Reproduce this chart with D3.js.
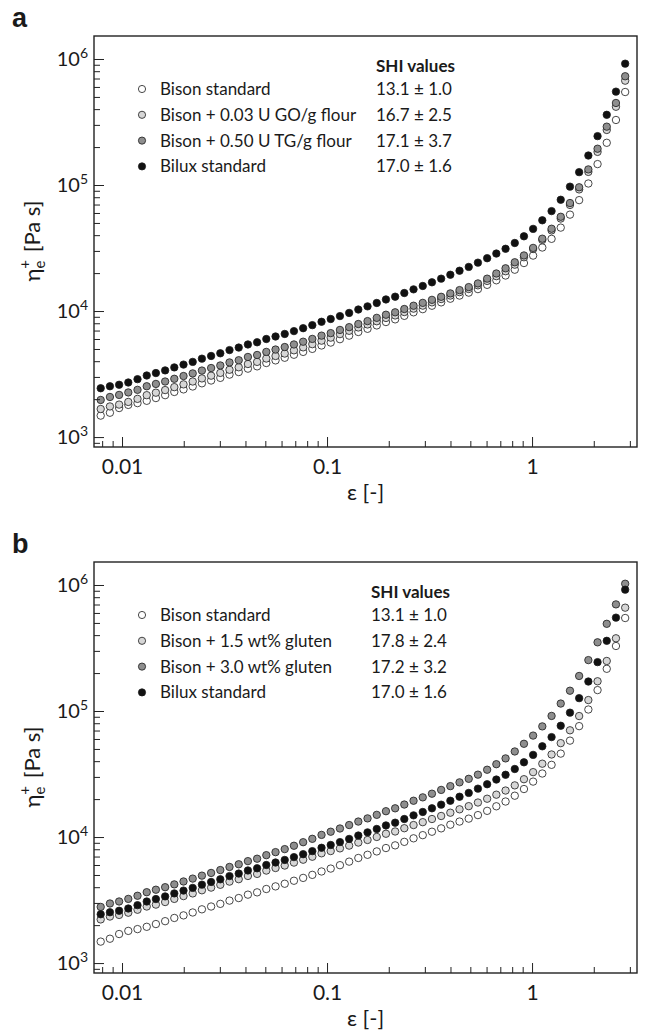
<!DOCTYPE html>
<html>
<head>
<meta charset="utf-8">
<script src="https://cdn.jsdelivr.net/npm/d3@7"></script>
<style>
  body { margin: 0; background: #fff; }
  text { font-family: Lato, "DejaVu Sans", sans-serif; fill: #1a1a1a; }
</style>
</head>
<body>
<svg id="chart" width="647" height="1033"></svg>
<script>
// Hencky strain of every measured point (same for all curves)
var strain = [0.00787, 0.00873, 0.00968, 0.01073, 0.01190, 0.01320, 0.01463, 0.01623, 0.01799, 0.01995,
    0.02212, 0.02453, 0.02720, 0.03016, 0.03344, 0.03709, 0.04112, 0.04560, 0.05056, 0.05608,
    0.06218, 0.06896, 0.07647, 0.08476, 0.09400, 0.1042, 0.1156, 0.1282, 0.1421, 0.1576,
    0.1748, 0.1938, 0.2149, 0.2382, 0.2642, 0.2930, 0.3249, 0.3603, 0.3994, 0.4429,
    0.4911, 0.5445, 0.6039, 0.6696, 0.7427, 0.8236, 0.9131, 1.012, 1.122, 1.245,
    1.380, 1.531, 1.697, 1.882, 2.087, 2.314, 2.566, 2.846];

// elongational viscosity [Pa s]
var bisonStandard = [1480, 1560, 1700, 1800, 1860, 1940, 2040, 2150, 2280, 2390,
    2520, 2670, 2810, 2950, 3130, 3280, 3490, 3640, 3870, 4060,
    4260, 4500, 4740, 5010, 5330, 5620, 5980, 6380, 6820, 7230,
    7690, 8180, 8590, 9160, 9770, 10350, 11020, 11720, 12530, 13270,
    14000, 14930, 16140, 17540, 19140, 21280, 24040, 27540, 31920, 37410,
    45920, 58210, 75860, 102800, 146600, 216300, 328100, 547000];

var bisonGO = [1670, 1750, 1810, 1900, 2010, 2150, 2250, 2360, 2490, 2620,
    2760, 2920, 3070, 3230, 3420, 3580, 3800, 3950, 4200, 4400,
    4600, 4880, 5150, 5460, 5820, 6150, 6560, 6970, 7410, 7830,
    8300, 8810, 9230, 9820, 10450, 11040, 11720, 12450, 13270, 14130,
    14960, 16000, 17340, 18920, 20700, 23330, 26730, 31050, 36640, 43650,
    54200, 69500, 92260, 127100, 183200, 273500, 417800, 673000];

var bisonTG = [1970, 2080, 2160, 2260, 2370, 2530, 2640, 2760, 2900, 3050,
    3200, 3370, 3530, 3700, 3910, 4070, 4320, 4480, 4740, 4950,
    5180, 5430, 5710, 6010, 6380, 6680, 7080, 7450, 7890, 8320,
    8830, 9350, 9770, 10380, 11020, 11610, 12270, 12970, 13800, 14660,
    15490, 16560, 18070, 19860, 21830, 24380, 27610, 31700, 37500, 44980,
    55980, 71940, 95940, 133000, 194100, 290400, 447700, 729400];

var biluxStandard = [2440, 2530, 2600, 2710, 2880, 3080, 3220, 3380, 3570, 3760,
    3950, 4190, 4400, 4620, 4900, 5130, 5430, 5650, 6000, 6280,
    6580, 6930, 7310, 7730, 8220, 8650, 9120, 9660, 10280, 10890,
    11590, 12360, 13000, 13900, 14860, 15810, 16900, 18070, 19410, 20890,
    22390, 24210, 26240, 28580, 31190, 34670, 39170, 44870, 52480, 62090,
    76380, 97050, 126500, 171400, 244300, 360600, 550800, 918000];

var bisonGluten15 = [2220, 2340, 2410, 2510, 2650, 2810, 2910, 3050, 3230, 3400,
    3570, 3780, 3970, 4180, 4430, 4630, 4910, 5100, 5420, 5680,
    5940, 6270, 6610, 6980, 7430, 7740, 8130, 8550, 9040, 9480,
    10020, 10620, 11070, 11750, 12450, 13120, 13900, 14690, 15600, 16600,
    17580, 18790, 20140, 21680, 23390, 25700, 28770, 32730, 38190, 45190,
    55590, 70310, 91200, 122200, 172200, 249500, 377600, 660700];

var bisonGluten30 = [2790, 2970, 3080, 3230, 3420, 3650, 3820, 4000, 4210, 4440,
    4680, 4940, 5190, 5470, 5790, 6080, 6440, 6730, 7180, 7590,
    8020, 8530, 9100, 9680, 10400, 11020, 11690, 12450, 13270, 14060,
    15000, 16030, 16900, 18110, 19410, 20650, 22080, 23660, 25350, 27160,
    28970, 31260, 34200, 37840, 42070, 47750, 54950, 63830, 75510, 91410,
    114600, 144900, 189700, 253500, 350800, 492000, 701500, 1023000];

var labelsA = ["Bison standard", "Bison + 0.03 U GO/g flour", "Bison + 0.50 U TG/g flour", "Bilux standard"];
var shiA = ["13.1 \u00b1 1.0", "16.7 \u00b1 2.5", "17.1 \u00b1 3.7", "17.0 \u00b1 1.6"];
var labelsB = ["Bison standard", "Bison + 1.5 wt% gluten", "Bison + 3.0 wt% gluten", "Bilux standard"];
var shiB = ["13.1 \u00b1 1.0", "17.8 \u00b1 2.4", "17.2 \u00b1 3.2", "17.0 \u00b1 1.6"];

var xMajor = [0.01, 0.1, 1];
var xMajorLabels = ["0.01", "0.1", "1"];
var yMajorExp = [3, 4, 5, 6];

var fills = ["#ffffff", "#d6d6d6", "#8e8e8e", "#111111"];

var svg = d3.select("#chart");
var left = 94, right = 637, plotH = 411;

var x = d3.scaleLog().domain([0.0073, 3.25]).range([left, right]);

var xMinor = [];
[0.001, 0.01, 0.1, 1].forEach(function (dec) {
    for (var k = 2; k <= 9; k++) {
        var v = dec * k;
        if (v > 0.0073 && v < 3.25) xMinor.push(v);
    }
});

function drawPanel(top, letter, series, labels, shi, shiX) {
    var y = d3.scaleLog().domain([834, 1.522e6]).range([top + plotH, top]);
    var g = svg.append("g");

    var yMinor = [];
    [100, 1000, 10000, 100000, 1000000].forEach(function (dec) {
        for (var k = 2; k <= 9; k++) {
            var v = dec * k;
            if (v > 834 && v < 1.522e6) yMinor.push(v);
        }
    });

    // data points
    series.forEach(function (s, si) {
        g.append("g").selectAll("circle")
            .data(s)
            .enter()
            .append("circle")
            .attr("cx", function (d, i) { return x(strain[i]); })
            .attr("cy", function (d) { return y(d); })
            .attr("r", 3.7)
            .style("fill", fills[si])
            .style("stroke", "#1a1a1a")
            .style("stroke-width", 0.8);
    });

    // x axis, ticks pointing inwards
    var gx = g.append("g").attr("transform", "translate(0," + (top + plotH) + ")");
    gx.call(d3.axisBottom(x).tickValues(xMinor).tickSize(-6).tickFormat(""));
    gx.append("g").call(d3.axisBottom(x).tickValues(xMajor).tickSize(-10).tickPadding(12)
        .tickFormat(function (d, i) { return xMajorLabels[i]; }));
    gx.selectAll(".domain").remove();
    gx.selectAll("line").style("stroke", "#222");
    gx.selectAll("text").style("font-size", "21px").style("font-family", "Lato, sans-serif").attr("fill", "#1a1a1a");

    // y axis
    var gy = g.append("g").attr("transform", "translate(" + left + ",0)");
    gy.call(d3.axisLeft(y).tickValues(yMinor).tickSize(-6).tickFormat(""));
    gy.append("g").call(d3.axisLeft(y).tickValues(yMajorExp.map(function (e) { return Math.pow(10, e); }))
        .tickSize(-10).tickPadding(6).tickFormat(""));
    gy.selectAll(".domain").remove();
    gy.selectAll("line").style("stroke", "#222");
    gy.selectAll("text").each(function (d) {
        if ([1e3, 1e4, 1e5, 1e6].indexOf(d) == -1) return;
        var t = d3.select(this).style("font-size", "20px").style("font-family", "Lato, sans-serif").attr("fill", "#1a1a1a");
        t.text(null);
        t.append("tspan").text("10");
        t.append("tspan").attr("dy", -7.5).style("font-size", "14px").text(Math.round(Math.log10(d)));
    });

    // frame
    g.append("rect")
        .attr("x", left).attr("y", top)
        .attr("width", right - left).attr("height", plotH)
        .style("fill", "none").style("stroke", "#222").style("stroke-width", 1.4);

    // axis titles
    g.append("text")
        .attr("x", (left + right) / 2).attr("y", top + plotH + 53)
        .attr("text-anchor", "middle").style("font-size", "22px")
        .text("\u03b5 [-]");

    var yt = g.append("text")
        .attr("transform", "translate(40," + (top + 205) + ") rotate(-90)")
        .attr("text-anchor", "middle").style("font-size", "22px");
    yt.append("tspan").text("\u03b7");
    yt.append("tspan").attr("dy", 5).style("font-size", "15px").text("e");
    yt.append("tspan").attr("dx", -8).attr("dy", -15).style("font-size", "15px").text("+");
    yt.append("tspan").attr("dx", 2).attr("dy", 10).text(" [Pa s]");

    // panel letter
    g.append("text").attr("x", 12).attr("y", top - 9)
        .style("font-size", "27px").style("font-weight", "bold")
        .style("font-family", "'Liberation Sans', Arial, sans-serif")
        .text(letter);

    // legend
    var leg = g.append("g");
    leg.append("text").attr("x", shiX).attr("y", top + 30).attr("dy", "0.35em")
        .style("font-size", "17px").style("font-weight", "bold").text("SHI values");
    labels.forEach(function (lab, i) {
        var ly = top + 53 + i * 25.8;
        leg.append("circle").attr("cx", 142).attr("cy", ly).attr("r", 3.6)
            .style("fill", fills[i]).style("stroke", "#1a1a1a").style("stroke-width", 0.8);
        leg.append("text").attr("x", 160).attr("y", ly).attr("dy", "0.35em")
            .style("font-size", "17px").text(lab);
        leg.append("text").attr("x", shiX).attr("y", ly).attr("dy", "0.35em")
            .style("font-size", "17px").text(shi[i]);
    });
}

drawPanel(36, "a", [bisonStandard, bisonGO, bisonTG, biluxStandard], labelsA, shiA, 376);
drawPanel(562, "b", [bisonStandard, bisonGluten15, bisonGluten30, biluxStandard], labelsB, shiB, 371);
</script>
</body>
</html>
